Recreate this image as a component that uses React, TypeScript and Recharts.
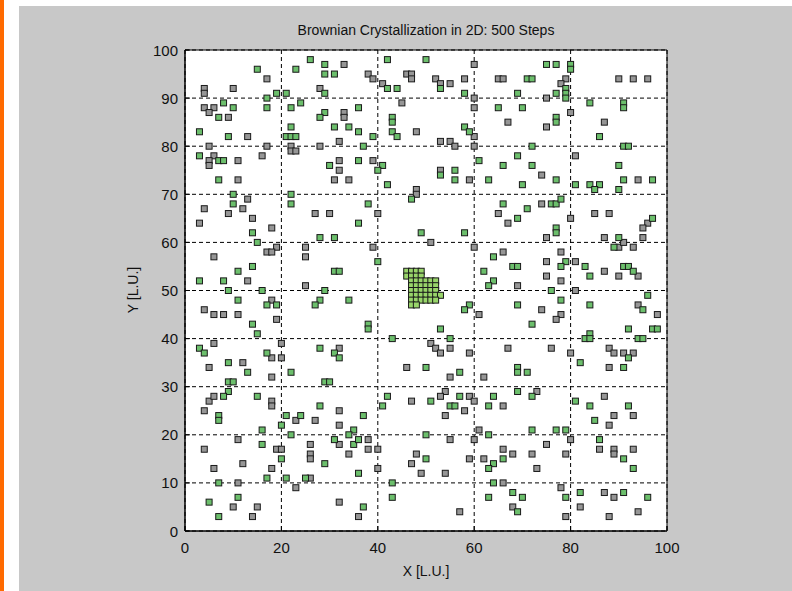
import React from 'react';
import { ScatterChart, Scatter, XAxis, YAxis, CartesianGrid, ReferenceArea } from 'recharts';

const xTicks = [0, 20, 40, 60, 80, 100];
const yTicks = [0, 10, 20, 30, 40, 50, 60, 70, 80, 90, 100];

const greenPoints: [number, number][] = [
  [26,98],[29,97],[15,96],[23,96],[29,95],[31,95],[29,91],[19,91],[21,91],[17,90],[8,89],[24,89],[10,88],[17,88],[22,88],
  [7,86],[29,87],[28,86],[3,83],[22,84],[31,84],[9,82],[21,82],[22,82],[23,82],[3,78],[7,77],[8,77],[30,76],[7,73],
  [10,70],[22,70],[10,68],[22,68],
  [42,98],[50,98],[42,92],[44,92],[53,92],[58,91],[36,88],[65,88],[43,86],[43,85],[34,84],[58,84],[59,83],[36,83],[39,82],
  [43,83],[44,82],[37,80],[36,77],[41,76],[40,75],[61,77],[53,74],[56,75],[56,73],[63,73],[42,72],[47,69],[38,68],
  [75,97],[77,97],[80,97],[80,96],[71,94],[72,94],[79,92],[79,91],[79,90],[69,91],[77,91],[84,89],[91,89],[91,88],[70,88],
  [77,86],[77,85],[86,82],[72,80],[91,80],[92,80],[69,78],[66,76],[72,76],[90,76],[70,72],[77,73],[81,72],[84,72],[86,72],
  [85,71],[90,71],[91,73],[97,73],[66,68],[76,68],[77,68],[78,69],
  [14,62],[15,60],[28,61],[31,61],[14,55],[11,54],[31,54],[32,54],[3,52],[8,52],[9,50],[16,50],[29,50],[11,48],[17,47],
  [19,47],[28,48],[27,47],[14,43],[15,41],[3,38],[4,37],[17,37],[28,38],[31,37],[32,36],[9,35],
  [36,64],[49,62],[58,62],[64,57],[40,56],[62,54],[64,52],[63,51],[34,48],[59,47],[58,46],[38,43],[38,42],[53,42],[43,40],[55,40],
  [69,65],[71,67],[77,63],[77,62],[90,61],[97,65],[89,59],[79,56],[78,55],[83,55],[68,55],[69,55],[91,55],[92,55],[93,54],
  [84,53],[76,50],[96,49],[78,48],[69,47],[84,47],[95,46],[72,43],[92,42],[97,42],[98,42],[84,41],[83,40],[84,40],[94,40],
  [95,40],[92,36],[82,35],
  [13,33],[22,33],[9,31],[10,31],[29,31],[30,31],[9,29],[8,28],[15,28],[7,24],[7,23],[28,26],[21,24],[24,24],[20,22],[16,21],
  [22,20],[16,18],[31,19],[20,15],[29,14],[7,10],[17,11],[21,11],[25,11],[5,6],[11,7],[7,3],
  [50,34],[57,33],[57,28],[64,28],[42,28],[41,26],[51,27],[55,26],[56,26],[63,26],[37,24],[35,21],[34,20],[35,18],[36,19],
  [50,20],[63,20],[50,15],[64,14],[63,13],[36,12],[43,10],[64,10],[43,7],[63,7],[37,5],
  [69,34],[69,33],[71,33],[91,34],[69,29],[72,28],[81,27],[84,26],[92,26],[85,23],[72,21],[77,21],[79,21],[86,19],[91,15],
  [93,13],[66,15],[68,8],[70,7],[79,7],[82,8],[91,8],[96,7],[69,4],
];

const grayPoints: [number, number][] = [
  [17,94],[4,92],[4,91],[10,92],[28,92],[4,88],[6,88],[5,87],[9,86],[13,82],[32,81],[5,80],[17,80],[22,80],[28,80],[22,79],
  [23,79],[6,78],[5,77],[5,76],[11,77],[16,78],[32,77],[32,75],[11,73],[31,73],[13,69],
  [33,97],[60,97],[38,95],[39,94],[46,95],[47,95],[47,94],[41,93],[52,94],[53,93],[55,93],[58,94],[65,94],[60,90],[45,89],
  [60,88],[33,87],[33,86],[48,83],[60,82],[53,81],[55,81],[56,80],[60,80],[39,77],[53,75],[59,73],[34,73],[48,71],[48,70],
  [66,94],[79,94],[78,93],[75,90],[90,94],[93,94],[96,94],[80,87],[67,85],[75,84],[87,85],[81,78],[74,74],[94,73],[74,68],
  [4,67],[12,67],[9,66],[14,65],[3,64],[27,66],[30,66],[18,63],[19,59],[17,58],[18,58],[25,59],[25,57],[6,57],[13,52],[25,51],
  [18,48],[4,46],[6,45],[8,45],[11,45],[19,44],[20,39],[6,39],[18,36],[20,36],[32,38],[12,35],
  [40,66],[65,66],[51,60],[39,59],[60,59],[61,45],[51,39],[52,38],[53,37],[55,38],[59,37],
  [67,64],[80,65],[85,66],[88,66],[75,61],[87,61],[96,64],[95,63],[95,61],[90,59],[91,60],[93,59],[66,58],[78,58],[75,56],
  [81,56],[94,53],[87,54],[90,53],[75,53],[78,52],[69,51],[81,50],[94,47],[74,46],[78,45],[77,44],[98,45],[67,38],[76,38],
  [80,37],[88,38],[89,37],[91,37],[93,37],
  [5,34],[18,32],[5,27],[6,28],[18,27],[18,26],[4,25],[32,25],[23,23],[27,23],[32,22],[11,19],[32,18],[4,17],[19,17],[20,17],
  [26,18],[26,16],[26,15],[6,13],[12,14],[18,13],[11,10],[26,11],[23,9],[10,5],[15,5],[32,6],[14,3],
  [46,34],[55,32],[62,32],[54,29],[53,28],[59,28],[60,27],[47,27],[58,25],[54,24],[38,19],[38,17],[34,16],[40,17],[55,19],
  [60,19],[61,21],[48,16],[59,15],[62,15],[47,14],[40,13],[49,12],[54,12],[36,3],[57,4],
  [88,34],[73,29],[66,26],[87,28],[89,24],[93,24],[88,22],[80,19],[86,17],[89,17],[89,16],[93,17],[75,18],[66,17],[68,16],
  [72,16],[79,16],[73,13],[66,10],[78,9],[82,5],[87,8],[89,7],[68,5],[79,3],[88,3],[94,4],
];

const clusterPoints: [number, number][] = [
  [46,54],[47,54],[48,54],[49,54],
  [46,53],[47,53],[48,53],[49,53],
  [47,52],[48,52],[49,52],[50,52],[51,52],[52,52],
  [47,51],[48,51],[49,51],[50,51],[51,51],[52,51],
  [47,50],[48,50],[49,50],[50,50],[51,50],[52,50],
  [47,49],[48,49],[49,49],[50,49],[51,49],[52,49],[53,49],
  [47,48],[48,48],[49,48],[50,48],[51,48],[52,48],
  [47,47],[48,47],
];

const toData = (pts: [number, number][]) => pts.map(([x, y]) => ({ x, y }));
const greenData = toData(greenPoints);
const grayData = toData(grayPoints);
const clusterData = toData(clusterPoints);

const FONT = '"Liberation Sans", Arial, sans-serif';
const TICK_MARGIN = 7;

const makeSquare = (fill: string) => (props: any) => {
  const { cx, cy } = props;
  if (cx == null || cy == null) return <g />;
  return <rect x={cx - 3} y={cy - 3} width={6} height={6} fill={fill} stroke="#1a1a1a" strokeWidth={1} />;
};

const YTick = (props: any) => {
  const { x, y, payload } = props;
  const ax = x + TICK_MARGIN;
  return (
    <g>
      <line x1={ax} x2={ax + 5} y1={y} y2={y} stroke="#000" strokeWidth={1} />
      <text x={x} y={y} textAnchor="end" dominantBaseline="central" fontFamily={FONT} fontSize={15} fill="#111">
        {payload.value}
      </text>
    </g>
  );
};

const XTick = (props: any) => {
  const { x, y, payload } = props;
  const ay = y - TICK_MARGIN;
  return (
    <g>
      <line x1={x} x2={x} y1={ay} y2={ay - 5} stroke="#000" strokeWidth={1} />
      <text x={x} y={y + 9} textAnchor="middle" dominantBaseline="central" fontFamily={FONT} fontSize={15} fill="#111">
        {payload.value}
      </text>
    </g>
  );
};

export default function App() {
  return (
    <div style={{ position: 'absolute', left: 0, top: 0, width: 792, height: 591, background: '#fff', overflow: 'hidden' }}>
      <div style={{ position: 'absolute', left: 0, top: 0, width: 4, height: 591, background: '#ff6a00' }} />
      <div style={{ position: 'absolute', left: 19, top: 6, right: 0, bottom: 0, background: '#c8c8c8' }} />
      <div style={{ position: 'absolute', left: 0, top: 0 }}>
        <ScatterChart width={792} height={591} margin={{ top: 50, right: 125, bottom: 0, left: 0 }}>
          <CartesianGrid
            fill="#ffffff"
            stroke="#000"
            strokeDasharray="4 3"
            strokeWidth={1}
          />
          <XAxis
            type="number"
            dataKey="x"
            domain={[0, 100]}
            ticks={xTicks}
            height={60}
            tickSize={0}
            tickMargin={TICK_MARGIN}
            tickLine={false}
            axisLine={{ stroke: '#000' }}
            tick={XTick}
            interval={0}
          />
          <YAxis
            type="number"
            dataKey="y"
            domain={[0, 100]}
            ticks={yTicks}
            width={185}
            tickSize={0}
            tickMargin={TICK_MARGIN}
            tickLine={false}
            axisLine={{ stroke: '#000' }}
            tick={YTick}
            interval={0}
          />
          <ReferenceArea x1={0} x2={100} y1={0} y2={100} fill="none" stroke="#000" strokeWidth={1} ifOverflow="visible" />
          <Scatter data={grayData} isAnimationActive={false} shape={makeSquare('#969696')} />
          <Scatter data={greenData} isAnimationActive={false} shape={makeSquare('#6cbf6c')} />
          <Scatter data={clusterData} isAnimationActive={false} shape={makeSquare('#98d46a')} />
        </ScatterChart>
      </div>
      <div style={{ position: 'absolute', left: 226, width: 400, top: 21, textAlign: 'center', fontFamily: FONT, fontSize: 14, color: '#111', lineHeight: '18px' }}>
        Brownian Crystallization in 2D: 500 Steps
      </div>
      <div style={{ position: 'absolute', left: 326, width: 200, top: 562, textAlign: 'center', fontFamily: FONT, fontSize: 14, color: '#111', lineHeight: '18px' }}>
        X [L.U.]
      </div>
      <div style={{ position: 'absolute', left: 83, width: 100, top: 281, textAlign: 'center', fontFamily: FONT, fontSize: 14, color: '#111', lineHeight: '18px', transform: 'rotate(-90deg)' }}>
        Y [L.U.]
      </div>
    </div>
  );
}
